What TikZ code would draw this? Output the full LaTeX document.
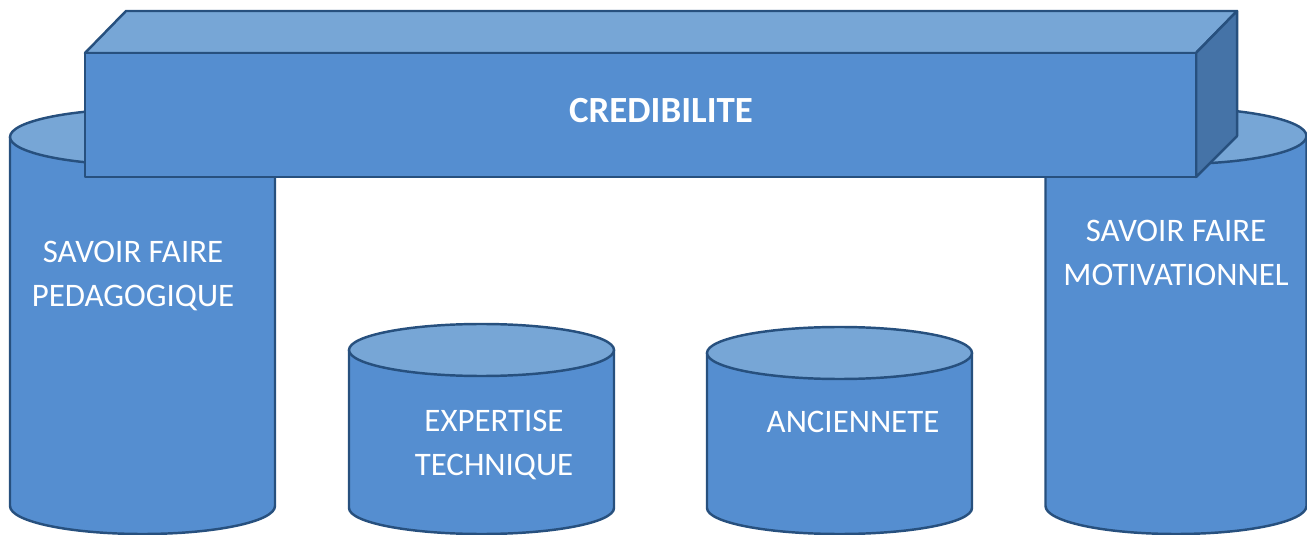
\documentclass[tikz,border=0pt]{standalone}
\usepackage{fontspec}
\setmainfont{Carlito}
\usepackage{tikz}
\definecolor{facecol}{HTML}{558ED0}
\definecolor{lidcol}{HTML}{77A6D6}
\definecolor{sidecol}{HTML}{4573A7}
\definecolor{edgecol}{HTML}{27507E}
\tikzset{
	pillar/.style={fill=facecol,draw=edgecol,line width=1.4pt,line join=round},
	lid/.style={fill=lidcol,draw=edgecol,line width=1.4pt},
	beamtop/.style={fill=lidcol,draw=edgecol,line width=1.4pt,line join=round},
	beamside/.style={fill=sidecol,draw=edgecol,line width=1.4pt,line join=round},
	label/.style={text=white,align=center,font=\fontsize{18.7}{25}\selectfont}
}

\begin{document}
\begin{tikzpicture}[x=0.02cm,y=0.02cm]
		\useasboundingbox (0,0) rectangle (1307,534);
		\foreach \cx/\rx/\yt/\yb/\ry in {142.5/132.5/397/28/28,1176/130.5/398/28/28,481.5/132.5/184/26/26,839.5/132.5/181/26/26}{
			\filldraw[pillar] (\cx-\rx,\yt) -- (\cx-\rx,\yb) arc[start angle=180,end angle=360,x radius=\rx,y radius=\ry] -- (\cx+\rx,\yt) -- cycle;
			\filldraw[lid] (\cx,\yt) ellipse[x radius=\rx,y radius=\ry];
		}
		\node[label] (pedago) at (133,258) {SAVOIR FAIRE\\PEDAGOGIQUE};
		\node[label] (motiv) at (1176,281) {SAVOIR FAIRE\\MOTIVATIONNEL};
		\node[label] (expert) at (494,89) {EXPERTISE\\TECHNIQUE};
		\node[label] (ancien) at (853,112) {ANCIENNETE};
		\filldraw[beamtop] (85,481) -- (126,523) -- (1237,523) -- (1196,481) -- cycle;
		\filldraw[beamside] (1196,481) -- (1237,523) -- (1237,398) -- (1196,357) -- cycle;
		\filldraw[pillar] (85,357) rectangle (1196,481);
		\node[label,font=\fontsize{21}{25}\selectfont\bfseries] (credib) at (661,423) {CREDIBILITE};
	\end{tikzpicture}
\end{document}
